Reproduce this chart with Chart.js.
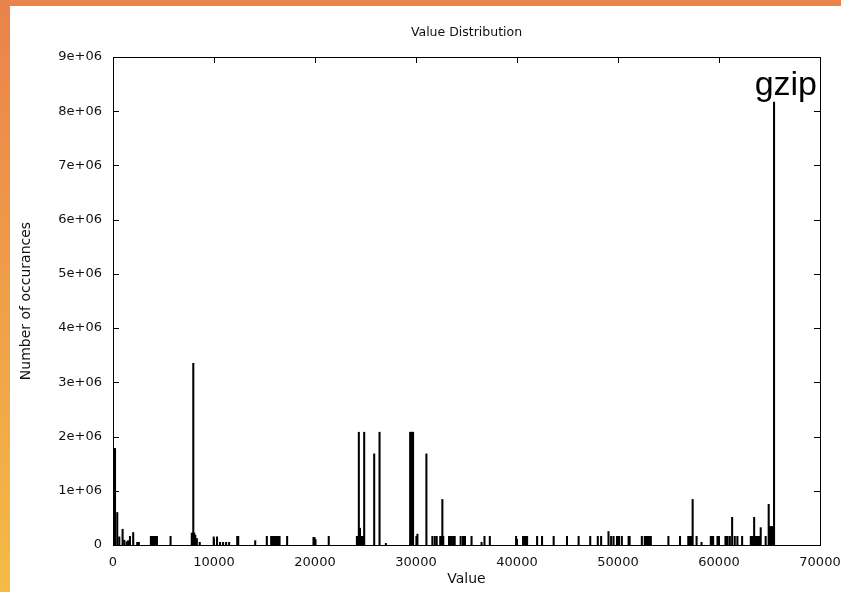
<!DOCTYPE html>
<html>
<head>
<meta charset="utf-8">
<script src="https://cdn.jsdelivr.net/npm/chart.js@4"></script>
<style>
    html, body { margin: 0; padding: 0; }
    body {
        width: 841px;
        height: 592px;
        overflow: hidden;
        background: linear-gradient(to bottom, #ea824b, #f4bb46);
        position: relative;
    }
    #wrap {
        position: absolute;
        left: 10px;
        top: 6px;
        width: 831px;
        height: 586px;
        background: #fff;
    }
</style>
</head>
<body>
<div id="wrap"><canvas id="chart" width="831" height="586"></canvas></div>
<script>
// values seen in the distribution (x) and how often each one occurs (y)
const values = [
    0, 100, 200, 420, 620, 950, 1120, 1350, 1500, 1680, 2000, 2400, 2560,
    3750, 3850, 3950, 4050, 4150, 4250, 4350, 5700,
    7800, 7900, 7950, 8050, 8150, 8300, 8590, 9970, 10300,
    10600, 10900, 11200, 11500, 12300, 12400, 14080, 15230,
    15660, 15760, 15860, 15960, 16060, 16160, 16260, 16360, 16490, 17240,
    19850, 19950, 20050, 21360,
    24150, 24250, 24340, 24450, 24550, 24650, 24750, 24870,
    25860, 26390, 27020, 29420, 29520, 29620, 29710, 30040, 30140, 31030,
    31620, 31860, 32050, 32400, 32500, 32610, 32700,
    33270, 33400, 33550, 33700, 33830, 34420, 34650, 34850, 35500, 36490,
    36780, 37310, 39910, 40600, 40700, 40800, 40900, 41000, 41990, 42480,
    43630, 44950, 46100, 47250, 48000, 48330, 49060, 49320, 49560,
    49900, 50000, 50100, 50380, 51050, 51150, 52360,
    52650, 52750, 52850, 52950, 53050, 53150, 53250, 54990, 56140,
    56960, 57060, 57160, 57260, 57390, 57780, 58270, 59190, 59300, 59420,
    59850, 59990, 60640, 60750, 60850, 61070, 61300, 61560, 61820, 62290,
    63150, 63250, 63350, 63480, 63600, 63700, 63800, 63900, 64040,
    64130, 64620, 64920, 65050, 65150, 65250, 65350, 65450
];
const counts = [
    1780000, 1780000, 1780000, 600000, 150000, 290000, 90000, 60000, 80000, 160000, 230000, 50000, 50000,
    160000, 160000, 160000, 160000, 160000, 160000, 160000, 160000,
    220000, 220000, 3350000, 220000, 180000, 120000, 50000, 150000, 150000,
    50000, 50000, 50000, 50000, 160000, 160000, 80000, 160000,
    160000, 160000, 160000, 160000, 160000, 160000, 160000, 160000, 160000, 160000,
    140000, 140000, 100000, 160000,
    160000, 160000, 2080000, 310000, 160000, 160000, 160000, 2080000,
    1680000, 2080000, 30000, 2080000, 2080000, 2080000, 2080000, 160000, 200000, 1680000,
    160000, 160000, 160000, 160000, 160000, 840000, 160000,
    160000, 160000, 160000, 160000, 160000, 160000, 160000, 160000, 160000, 50000,
    160000, 160000, 160000, 160000, 160000, 160000, 160000, 160000, 160000, 160000,
    160000, 160000, 160000, 160000, 160000, 160000, 250000, 160000, 160000,
    160000, 160000, 160000, 160000, 160000, 160000, 160000,
    160000, 160000, 160000, 160000, 160000, 160000, 160000, 160000, 160000,
    160000, 160000, 160000, 160000, 840000, 160000, 50000, 160000, 160000, 160000,
    160000, 160000, 160000, 160000, 160000, 160000, 510000, 160000, 160000, 160000,
    160000, 160000, 160000, 510000, 160000, 160000, 160000, 160000, 160000,
    320000, 160000, 750000, 340000, 340000, 340000, 340000, 8170000
];
const xTicks = [0, 10000, 20000, 30000, 40000, 50000, 60000, 70000];
const yMax = 9000000;
const peakLabel = 'gzip';

const tickFont = { family: 'DejaVu Sans', size: 13 };

// box round the plot with gnuplot style ticks pointing inwards on all sides
const framePlugin = {
    id: 'frame',
    afterDatasetsDraw(chart) {
        const { ctx, chartArea: a, scales } = chart;
        const len = 6;
        ctx.save();
        ctx.strokeStyle = '#000';
        ctx.lineWidth = 1;
        ctx.beginPath();
        scales.y.ticks.forEach(t => {
            const py = Math.round(scales.y.getPixelForValue(t.value)) + 0.5;
            ctx.moveTo(a.left, py); ctx.lineTo(a.left + len, py);
            ctx.moveTo(a.right, py); ctx.lineTo(a.right - len, py);
        });
        scales.x.ticks.forEach(t => {
            const px = Math.round(scales.x.getPixelForValue(t.value)) + 0.5;
            ctx.moveTo(px, a.bottom); ctx.lineTo(px, a.bottom - len);
            ctx.moveTo(px, a.top); ctx.lineTo(px, a.top + len);
        });
        ctx.stroke();
        ctx.strokeRect(Math.round(a.left) + 0.5, Math.round(a.top) + 0.5,
            Math.round(a.right - a.left), Math.round(a.bottom - a.top));

        // label over the tallest spike
        ctx.fillStyle = '#000';
        ctx.font = '34px "Liberation Sans", Arial, sans-serif';
        ctx.textAlign = 'right';
        ctx.textBaseline = 'alphabetic';
        ctx.fillText(peakLabel, a.right - 3, 89);
        ctx.restore();
    }
};

new Chart(document.getElementById('chart'), {
    type: 'bar',
    data: {
        datasets: [{
            data: values.map((v, i) => ({ x: v, y: counts[i] })),
            backgroundColor: '#000',
            borderWidth: 0,
            barThickness: 1.4
        }]
    },
    options: {
        responsive: false,
        animation: false,
        layout: { padding: { right: 21 } },
        plugins: { legend: { display: false }, tooltip: { enabled: false } },
        scales: {
            x: {
                type: 'linear',
                min: 0,
                max: 70000,
                offset: false,
                afterBuildTicks: s => { s.ticks = xTicks.map(v => ({ value: v })); },
                afterFit: s => { s.height = 47; s.paddingLeft = 0; s.paddingRight = 0; },
                grid: { display: false, drawTicks: false },
                border: { display: false },
                ticks: { color: '#111', font: tickFont, padding: 10, maxRotation: 0,
                         callback: v => String(v) },
                title: { display: true, text: 'Value', color: '#111',
                         font: { family: 'DejaVu Sans', size: 14 }, padding: { bottom: 4 } }
            },
            x2: {
                type: 'linear',
                position: 'top',
                min: 0,
                max: 70000,
                offset: false,
                afterFit: s => { s.height = 51; s.paddingLeft = 0; s.paddingRight = 0; },
                grid: { display: false, drawTicks: false },
                border: { display: false },
                ticks: { display: false },
                title: { display: true, text: 'Value Distribution', color: '#111',
                         font: { family: 'DejaVu Sans', size: 12.5 }, padding: { top: 19 } }
            },
            y: {
                min: 0,
                max: yMax,
                afterFit: s => { s.width = 103; },
                grid: { display: false, drawTicks: false },
                border: { display: false },
                ticks: {
                    stepSize: 1000000,
                    color: '#111',
                    font: tickFont,
                    padding: 11,
                    callback: v => v === 0 ? '0' : (v / 1000000) + 'e+06'
                },
                title: { display: true, text: 'Number of occurances', color: '#111',
                         font: { family: 'DejaVu Sans', size: 14 }, padding: { top: 8 } }
            }
        }
    },
    plugins: [framePlugin]
});
</script>
</body>
</html>
